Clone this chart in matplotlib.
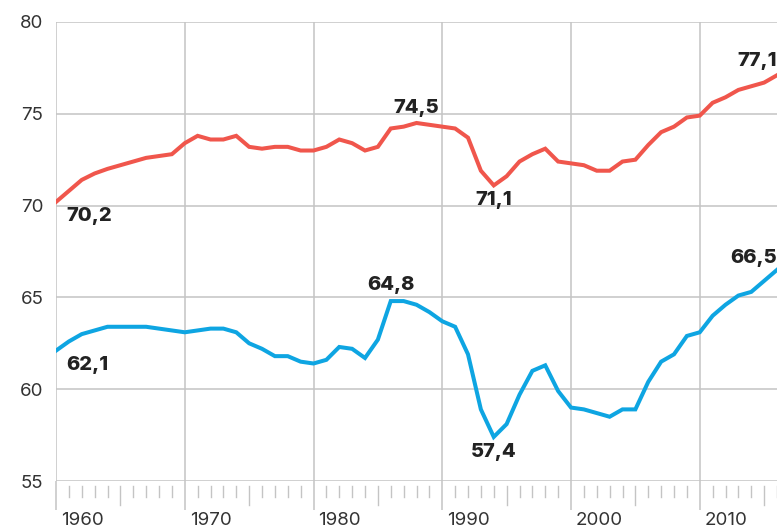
import matplotlib.pyplot as plt
import matplotlib.transforms as mtransforms

years = list(range(1960, 2017))
women = [70.2, 70.8, 71.4, 71.75, 72.0, 72.2, 72.4, 72.6, 72.7, 72.8,
         73.4, 73.8, 73.6, 73.6, 73.8, 73.2, 73.1, 73.2, 73.2, 73.0,
         73.0, 73.2, 73.6, 73.4, 73.0, 73.2, 74.2, 74.3, 74.5, 74.4,
         74.3, 74.2, 73.7, 71.9, 71.1, 71.6, 72.4, 72.8, 73.1, 72.4,
         72.3, 72.2, 71.9, 71.9, 72.4, 72.5, 73.3, 74.0, 74.3, 74.8,
         74.9, 75.6, 75.9, 76.3, 76.5, 76.7, 77.1]
men = [62.1, 62.6, 63.0, 63.2, 63.4, 63.4, 63.4, 63.4, 63.3, 63.2,
       63.1, 63.2, 63.3, 63.3, 63.1, 62.5, 62.2, 61.8, 61.8, 61.5,
       61.4, 61.6, 62.3, 62.2, 61.7, 62.7, 64.8, 64.8, 64.6, 64.2,
       63.7, 63.4, 61.9, 58.9, 57.4, 58.1, 59.7, 61.0, 61.3, 59.9,
       59.0, 58.9, 58.7, 58.5, 58.9, 58.9, 60.4, 61.5, 61.9, 62.9,
       63.1, 64.0, 64.6, 65.1, 65.3, 65.9, 66.5]

# labelled points: (year, value, text, offset x px, offset y px, ha)
women_labels = [(1960, 70.2, "70,2", 10, -14, "left"),
                (1988, 74.5, "74,5", 0, 15, "center"),
                (1994, 71.1, "71,1", 0, -15, "center"),
                (2016, 77.1, "77,1", 0, 14, "right")]
men_labels = [(1960, 62.1, "62,1", 10, -14, "left"),
              (1986, 64.8, "64,8", 0, 16, "center"),
              (1994, 57.4, "57,4", 0, -15, "center"),
              (2016, 66.5, "66,5", 0, 12, "right")]

RED = "#f0564c"
BLUE = "#0ea5e2"
GRID = "#c4c4c4"
FONT = "Inter"

fig = plt.figure(figsize=(7.77, 5.29), dpi=100)
ax = fig.add_axes([56 / 777, 1 - 481 / 529, 1 - 56 / 777, (481 - 22) / 529])

ax.plot(years, women, color=RED, lw=2.9, solid_joinstyle="miter", zorder=3)
ax.plot(years, men, color=BLUE, lw=2.9, solid_joinstyle="miter", zorder=3)

ax.set_xlim(1960, 2016)
ax.set_ylim(55, 80)
ax.set_yticks([55, 60, 65, 70, 75, 80])
ax.set_xticks(range(1960, 2020, 10))
ax.set_xticklabels([str(y) for y in range(1960, 2020, 10)])

for s in ax.spines.values():
    s.set_visible(False)
ax.grid(True, color=GRID, lw=1.1)
ax.set_axisbelow(True)

ax.tick_params(axis="y", length=0, pad=9, labelsize=13.5, labelcolor="#333333")
ax.tick_params(axis="x", length=21, width=1.1, color=GRID, pad=1,
               labelsize=13.5, labelcolor="#333333")
shift = mtransforms.ScaledTranslation(5 / 100, 0, fig.dpi_scale_trans)
for lab in ax.get_xticklabels():
    lab.set_ha("left")
    lab.set_transform(lab.get_transform() + shift)
for lab in ax.get_xticklabels() + ax.get_yticklabels():
    lab.set_fontfamily(FONT)

# small yearly ticks under the axis
trans = ax.get_xaxis_transform()
for y in years:
    if y % 10 == 0:
        continue
    low = -0.052 if y % 5 == 0 else -0.035
    ax.plot([y, y], [-0.011, low], color=GRID, lw=1.0, transform=trans,
            clip_on=False)

for labels in (women_labels, men_labels):
    for yr, val, txt, dx, dy, ha in labels:
        ax.annotate(txt, (yr, val), xytext=(dx * 0.72, dy * 0.72),
                    textcoords="offset points", ha=ha, va="center",
                    fontsize=14.5, fontweight="heavy", color="#222222",
                    family=FONT, annotation_clip=False)

fig.savefig("out.png", dpi=100)
